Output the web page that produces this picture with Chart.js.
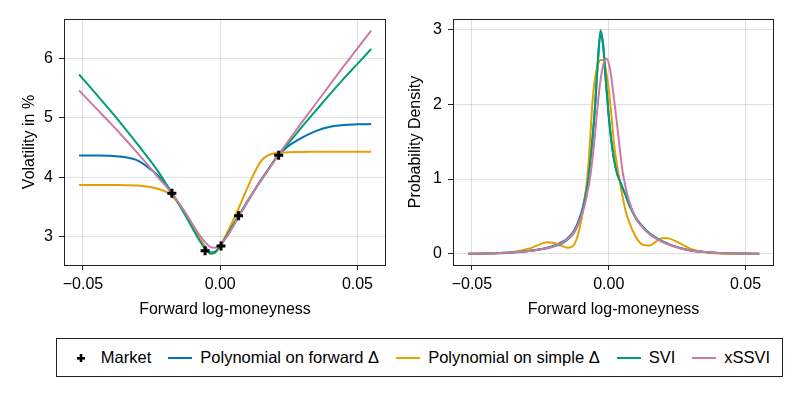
<!DOCTYPE html>
<html>
<head>
<meta charset="utf-8">
<script src="https://cdn.jsdelivr.net/npm/chart.js@4.4.1/dist/chart.umd.min.js"></script>
<style>
  body { margin: 0; width: 793px; height: 397px; background: #fff; overflow: hidden;
         font-family: 'Liberation Sans', Arial, sans-serif; }
  #volChart { position: absolute; left: 0; top: 0; }
  #densChart { position: absolute; left: 390px; top: 0; }
  #legend { position: absolute; left: 56px; top: 338px; width: 727px; height: 39px;
            box-sizing: border-box; border: 1px solid #222; display: flex;
            align-items: center; justify-content: center; gap: 17px; font-size: 16.5px; color: #000; }
  .item { display: flex; align-items: center; white-space: nowrap; }
  .swatch { width: 24px; height: 2px; margin-right: 8px; }
  .mark { width: 24px; height: 12px; margin-right: 8px; }
</style>
</head>
<body>
<canvas id="volChart" width="400" height="330"></canvas>
<canvas id="densChart" width="403" height="330"></canvas>
<div id="legend"></div>
<script>
// Colors (Wong palette)
const blueColor = '#0072B2',
	orangeColor = '#E69F00',
	greenColor = '#009E73',
	pinkColor = '#CC79A7',
	frameColor = '#222',
	gridColor = 'rgba(0,0,0,0.12)';

// Axis ticks
const xTicks = [-0.05, 0, 0.05];
const xTickLabels = ['\u22120.05', '0.00', '0.05'];
const volTicks = [3, 4, 5, 6];
const densTicks = [0, 1, 2, 3];

// Market quotes
const marketX = [-0.0176, -0.0055, 0.0003, 0.0067, 0.0213];
const marketVol = [3.73, 2.76, 2.84, 3.35, 4.37];

// Implied volatility curves (in %)
const volX = [-0.0514, -0.045, -0.04, -0.035, -0.03, -0.025, -0.0225, -0.02, -0.0175, -0.015, -0.0125, -0.01,
	-0.0075, -0.005, -0.0035, -0.002, 0, 0.0025, 0.005, 0.0075, 0.01, 0.0125, 0.015, 0.0175, 0.02, 0.0225,
	0.025, 0.03, 0.035, 0.04, 0.045, 0.05, 0.055];
const volPolyForward = [4.366, 4.365, 4.36, 4.34, 4.28, 4.12, 4.02, 3.88, 3.72, 3.55, 3.36, 3.16,
	2.96, 2.79, 2.73, 2.74, 2.84, 3.02, 3.21, 3.40, 3.59, 3.78, 3.96, 4.13, 4.30, 4.43,
	4.53, 4.67, 4.78, 4.85, 4.88, 4.89, 4.895];
const volPolySimple = [3.87, 3.87, 3.87, 3.865, 3.86, 3.83, 3.80, 3.76, 3.68, 3.55, 3.38, 3.18,
	2.97, 2.78, 2.71, 2.72, 2.85, 3.06, 3.30, 3.56, 3.83, 4.08, 4.28, 4.37, 4.405, 4.415,
	4.42, 4.425, 4.43, 4.43, 4.43, 4.43, 4.43];
const volSVI = [5.73, 5.39, 5.12, 4.84, 4.55, 4.25, 4.09, 3.91, 3.73, 3.54, 3.34, 3.13,
	2.93, 2.77, 2.715, 2.73, 2.84, 3.02, 3.22, 3.41, 3.60, 3.78, 3.96, 4.13, 4.30, 4.45,
	4.58, 4.86, 5.13, 5.40, 5.66, 5.91, 6.16];
const volXSSVI = [5.46, 5.15, 4.91, 4.66, 4.40, 4.13, 3.99, 3.86, 3.72, 3.56, 3.39, 3.20,
	3.02, 2.88, 2.82, 2.81, 2.86, 3.00, 3.19, 3.39, 3.59, 3.78, 3.95, 4.12, 4.29, 4.46,
	4.62, 4.94, 5.25, 5.56, 5.87, 6.17, 6.47];

// Probability densities
const densX = [-0.0514, -0.045, -0.04, -0.035, -0.03, -0.0275, -0.025, -0.0225, -0.02, -0.0175, -0.015, -0.0125,
	-0.01, -0.009, -0.008, -0.007, -0.006, -0.005, -0.004, -0.003, -0.002, -0.001, 0, 0.001, 0.002, 0.003,
	0.004, 0.005, 0.006, 0.0075, 0.01, 0.0125, 0.015, 0.0175, 0.02, 0.0225, 0.025, 0.0275, 0.03, 0.035,
	0.04, 0.045, 0.05, 0.055];
const densPolyForward = [0, 0.004, 0.008, 0.018, 0.035, 0.047, 0.062, 0.08, 0.11, 0.15, 0.21, 0.32,
	0.55, 0.70, 0.90, 1.17, 1.52, 1.97, 2.55, 2.93, 2.76, 2.28, 1.84, 1.50, 1.25, 1.08,
	0.98, 0.89, 0.80, 0.66, 0.48, 0.36, 0.27, 0.21, 0.16, 0.12, 0.09, 0.065, 0.045, 0.025,
	0.012, 0.006, 0.003, 0];
const densPolySimple = [0, 0.003, 0.01, 0.025, 0.06, 0.09, 0.13, 0.155, 0.145, 0.11, 0.08, 0.13,
	0.45, 0.68, 0.95, 1.40, 2.00, 2.35, 2.52, 2.59, 2.59, 2.45, 2.20, 1.85, 1.45, 1.20,
	0.98, 0.78, 0.60, 0.42, 0.22, 0.12, 0.11, 0.17, 0.21, 0.20, 0.16, 0.11, 0.065, 0.02,
	0.005, 0.002, 0, 0];
const densSVI = [0, 0.005, 0.01, 0.02, 0.035, 0.045, 0.06, 0.075, 0.10, 0.13, 0.19, 0.29,
	0.52, 0.68, 0.88, 1.15, 1.50, 1.95, 2.55, 2.99, 2.80, 2.30, 1.85, 1.50, 1.25, 1.08,
	0.98, 0.88, 0.80, 0.65, 0.47, 0.36, 0.27, 0.21, 0.16, 0.12, 0.09, 0.065, 0.045, 0.025,
	0.012, 0.006, 0.003, 0];
const densXSSVI = [0, 0.005, 0.01, 0.02, 0.035, 0.045, 0.06, 0.075, 0.10, 0.14, 0.20, 0.30,
	0.50, 0.62, 0.78, 0.97, 1.25, 1.60, 2.00, 2.32, 2.52, 2.61, 2.55, 2.35, 2.05, 1.75,
	1.42, 1.12, 0.92, 0.70, 0.47, 0.35, 0.26, 0.20, 0.15, 0.115, 0.085, 0.06, 0.045, 0.025,
	0.012, 0.006, 0.003, 0];

const seriesNames = ['Polynomial on forward \u0394', 'Polynomial on simple \u0394', 'SVI', 'xSSVI'];
const seriesColors = [blueColor, orangeColor, greenColor, pinkColor];

Chart.defaults.font.family = "'Liberation Sans', Arial, sans-serif";
Chart.defaults.font.size = 16;
Chart.defaults.color = '#000';

function toPoints(xs, ys) {
	return xs.map(function(x, i) { return { x: x, y: ys[i] }; });
}

function lineSet(label, color, xs, ys, order) {
	return {
		label: label,
		data: toPoints(xs, ys),
		borderColor: color,
		borderWidth: 2,
		pointRadius: 0,
		cubicInterpolationMode: 'monotone',
		order: order
	};
}

// Frame around the plot area
const framePlugin = {
	id: 'frame',
	afterDraw: function(chart) {
		const a = chart.chartArea, ctx = chart.ctx;
		ctx.save();
		ctx.strokeStyle = frameColor;
		ctx.lineWidth = 1;
		ctx.strokeRect(Math.round(a.left) + 0.5, Math.round(a.top) + 0.5,
			Math.round(a.right - a.left) - 1, Math.round(a.bottom - a.top));
		ctx.restore();
	}
};

function makeOptions(yMin, yMax, yTickVals, yTitle, yWidth, yTitlePad, rightPad) {
	return {
		responsive: false,
		animation: false,
		layout: { padding: { top: 19, right: rightPad, left: 0, bottom: 0 } },
		plugins: { legend: { display: false }, tooltip: { enabled: false } },
		scales: {
			x: {
				type: 'linear',
				min: -0.0569,
				max: 0.0604,
				afterBuildTicks: function(s) { s.ticks = xTicks.map(function(v) { return { value: v }; }); },
				afterFit: function(s) { s.height = 65; },
				grid: { color: gridColor, tickColor: frameColor, tickLength: 5 },
				border: { display: false },
				ticks: {
					padding: 5,
					maxRotation: 0,
					callback: function(v, i) { return xTickLabels[i]; }
				},
				title: { display: true, text: 'Forward log-moneyness', padding: { top: 0, bottom: 11 } }
			},
			y: {
				min: yMin,
				max: yMax,
				afterBuildTicks: function(s) { s.ticks = yTickVals.map(function(v) { return { value: v }; }); },
				afterFit: function(s) { s.width = yWidth; },
				grid: { color: gridColor, tickColor: frameColor, tickLength: 5 },
				border: { display: false },
				ticks: {
					padding: 6,
					callback: function(v) { return String(v); }
				},
				title: { display: true, text: yTitle, padding: { top: yTitlePad, bottom: 0 } }
			}
		}
	};
}

// Volatility chart
new Chart(document.getElementById('volChart'), {
	type: 'line',
	data: {
		datasets: [
			{
				label: 'Market',
				data: toPoints(marketX, marketVol),
				showLine: false,
				pointStyle: 'cross',
				pointRadius: 4.5,
				pointBorderWidth: 3,
				borderColor: '#000',
				backgroundColor: '#000',
				order: 0
			},
			lineSet(seriesNames[0], blueColor, volX, volPolyForward, 4),
			lineSet(seriesNames[1], orangeColor, volX, volPolySimple, 3),
			lineSet(seriesNames[2], greenColor, volX, volSVI, 2),
			lineSet(seriesNames[3], pinkColor, volX, volXSSVI, 1)
		]
	},
	options: makeOptions(2.52, 6.665, volTicks, 'Volatility in %', 64, 20, 14),
	plugins: [framePlugin]
});

// Density chart
new Chart(document.getElementById('densChart'), {
	type: 'line',
	data: {
		datasets: [
			lineSet(seriesNames[0], blueColor, densX, densPolyForward, 4),
			lineSet(seriesNames[1], orangeColor, densX, densPolySimple, 3),
			lineSet(seriesNames[2], greenColor, densX, densSVI, 2),
			lineSet(seriesNames[3], pinkColor, densX, densXSSVI, 1)
		]
	},
	options: makeOptions(-0.1495, 3.1395, densTicks, 'Probability Density', 63, 16, 19),
	plugins: [framePlugin]
});

// Shared legend
const legend = document.getElementById('legend');
let html = '<div class="item"><svg class="mark" viewBox="0 0 24 12"><rect x="8" y="5" width="8" height="2.6" fill="#000"/>' +
	'<rect x="10.7" y="2" width="2.6" height="8" fill="#000"/></svg>Market</div>';
seriesNames.forEach(function(name, i) {
	html += '<div class="item"><span class="swatch" style="background:' + seriesColors[i] + '"></span>' + name + '</div>';
});
legend.innerHTML = html;
</script>
</body>
</html>
